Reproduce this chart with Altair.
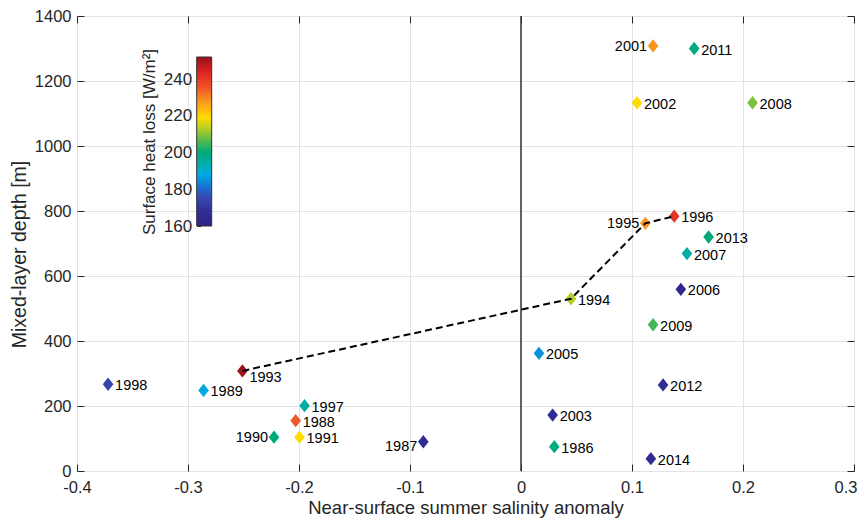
import altair as alt
import pandas as pd

# ---- data ----
years = [1986, 1987, 1988, 1989, 1990, 1991, 1993, 1994, 1995, 1996, 1997, 1998,
         2001, 2002, 2003, 2005, 2006, 2007, 2008, 2009, 2011, 2012, 2013, 2014]
salinity = [0.030, -0.088, -0.203, -0.286, -0.2225, -0.1995, -0.251, 0.045, 0.112, 0.138, -0.195, -0.372,
            0.119, 0.1045, 0.0285, 0.0162, 0.144, 0.1495, 0.2086, 0.119, 0.156, 0.128, 0.169, 0.117]
mld = [75, 90, 155, 248, 104, 104, 308, 530, 762, 784, 201, 267,
       1308, 1133, 172, 362, 559, 669, 1133, 450, 1300, 265, 720, 38]
heat_loss = [199, 167, 235, 188, 200, 219, 251, 213, 228, 241, 195, 174,
             228, 219, 167, 185, 164, 195, 209, 205, 199, 167, 200, 166]

path_years = [1993, 1994, 1995, 1996]          # dashed trajectory
left_label_years = [1990, 1987, 1995, 2001]    # labels placed left of marker
low_label_years = [1993, 1987]                 # labels sitting slightly lower

cbar_stops = [160, 168, 176, 182, 188, 194, 200, 206, 213, 219, 228, 236, 244, 252]
cbar_colors = ["#2d2382", "#322d96", "#374bb4", "#1478d7", "#00aae1", "#00afaa",
               "#00aa78", "#50b950", "#b4cd28", "#ffdc00", "#fa961e", "#f05028",
               "#dc2323", "#960f19"]
cbar_ticks = [160, 180, 200, 220, 240]
x_ticks = [-0.4, -0.3, -0.2, -0.1, 0, 0.1, 0.2, 0.3]
y_ticks = [0, 200, 400, 600, 800, 1000, 1200, 1400]

df = pd.DataFrame({"year": years, "sal": salinity, "mld": mld, "heat": heat_loss})
df["side"] = ["left" if y in left_label_years else "right" for y in years]
df["low"] = [y in low_label_years for y in years]
path_df = df[df["year"].isin(path_years)].sort_values("year")
zero_df = pd.DataFrame({"x": [0]})
cbar_df = pd.DataFrame({"lo": [cbar_stops[0]], "hi": [cbar_stops[-1]]})

FONT = "Liberation Sans"
TXT = "#262626"

xs = alt.Scale(domain=[-0.4, 0.3], nice=False, zero=False)
ys = alt.Scale(domain=[0, 1400], nice=False)
color_scale = alt.Scale(domain=cbar_stops, range=cbar_colors, interpolate="rgb")

main_x_axis = alt.Axis(values=x_ticks, grid=True, ticks=False, domain=False,
                       labelExpr="toString(round(datum.value*10)/10)",
                       labelAlign={"condition": {"test": "datum.value > 0.25", "value": "right"},
                                   "value": "center"},
                       labelOffset={"condition": {"test": "datum.value > 0.25", "value": 3},
                                    "value": 0},
                       labelFontSize=16.5, labelPadding=8, labelColor=TXT,
                       title="Near-surface summer salinity anomaly", titleFontSize=18.5,
                       titleFontWeight="normal", titleColor=TXT, titlePadding=3,
                       gridColor="#e3e3e3", labelFlush=False)
main_y_axis = alt.Axis(values=y_ticks, grid=True, ticks=False, domain=False, format="d",
                       labelFontSize=16.5, labelPadding=6, labelColor=TXT,
                       title="Mixed-layer depth [m]", titleFontSize=19.5, titleY=238,
                       titleFontWeight="normal", titleColor=TXT, titlePadding=5,
                       gridColor="#e3e3e3", labelFlush=False)


def tick_axis(orient, vals):
    return alt.Axis(orient=orient, values=vals, offset=-7, tickSize=7, tickColor=TXT,
                    tickWidth=1, labels=False, title=None, grid=False, domain=False)


# colour bar (guide) drawn inside the plot, with its own axis
cbar_scale = alt.Scale(domain=[cbar_stops[0], cbar_stops[-1]], range=[210, 41], nice=False, zero=False)
span = cbar_stops[-1] - cbar_stops[0]
grad = {
    "gradient": "linear", "x1": 0, "x2": 0, "y1": 1, "y2": 0,
    "stops": [{"offset": (v - cbar_stops[0]) / span, "color": c} for v, c in zip(cbar_stops, cbar_colors)],
}
cbar = alt.Chart(cbar_df).mark_rect(fill=grad, stroke="#333333", strokeWidth=1).encode(
    y=alt.Y("lo:Q", scale=cbar_scale,
            axis=alt.Axis(orient="left", offset=-123.7, values=cbar_ticks, tickSize=4,
                          tickColor="#333333", domain=False, grid=False,
                          labelFontSize=17, labelPadding=5, labelColor=TXT,
                          title="Surface heat loss [W/m²]", titleFontSize=17,
                          titleFontWeight="normal", titleColor=TXT, titlePadding=5)),
    y2="hi:Q",
    x=alt.value(119.7),
    x2=alt.value(134.7),
)

zero_rule = alt.Chart(zero_df).mark_rule(color="#333333", strokeWidth=1.5).encode(
    x=alt.X("x:Q", scale=xs, axis=None)
)

line = alt.Chart(path_df).mark_line(color="black", strokeWidth=2, strokeDash=[7, 4]).encode(
    x=alt.X("sal:Q", scale=xs, axis=tick_axis("bottom", x_ticks)),
    y=alt.Y("mld:Q", scale=ys, axis=tick_axis("left", y_ticks)),
    order="year:Q",
)

diamond = "M0,-1L0.8,0L0,1L-0.8,0Z"
points = alt.Chart(df).mark_point(shape=diamond, filled=True, size=177, opacity=1,
                                  strokeWidth=0).encode(
    x=alt.X("sal:Q", scale=xs, axis=main_x_axis),
    y=alt.Y("mld:Q", scale=ys, axis=main_y_axis),
    color=alt.Color("heat:Q", scale=color_scale, legend=None),
)

lab_right = alt.Chart(df).transform_filter(
    "datum.side == 'right' && !datum.low"
).mark_text(align="left", baseline="middle", dx=7, dy=2, fontSize=14.5, color="black").encode(
    x=alt.X("sal:Q", scale=xs, axis=tick_axis("top", x_ticks)),
    y=alt.Y("mld:Q", scale=ys, axis=tick_axis("right", y_ticks)),
    text="year:N",
)
lab_right_low = alt.Chart(df).transform_filter(
    "datum.side == 'right' && datum.low"
).mark_text(align="left", baseline="middle", dx=7, dy=7, fontSize=14.5, color="black").encode(
    x=alt.X("sal:Q", scale=xs, axis=None),
    y=alt.Y("mld:Q", scale=ys, axis=None),
    text="year:N",
)
lab_left = alt.Chart(df).transform_filter(
    "datum.side == 'left' && !datum.low"
).mark_text(align="right", baseline="middle", dx=-6, dy=1, fontSize=14.5, color="black").encode(
    x=alt.X("sal:Q", scale=xs, axis=None),
    y=alt.Y("mld:Q", scale=ys, axis=None),
    text="year:N",
)
lab_left_low = alt.Chart(df).transform_filter(
    "datum.side == 'left' && datum.low"
).mark_text(align="right", baseline="middle", dx=-6, dy=5, fontSize=14.5, color="black").encode(
    x=alt.X("sal:Q", scale=xs, axis=None),
    y=alt.Y("mld:Q", scale=ys, axis=None),
    text="year:N",
)

chart = alt.layer(
    points, cbar, zero_rule, line, lab_right, lab_right_low, lab_left, lab_left_low
).resolve_axis(x="independent", y="independent").resolve_scale(y="independent").properties(
    width=777, height=455,
    autosize=alt.AutoSizeParams(type="none"),
    padding={"left": 69, "top": 8, "right": 4, "bottom": 47},
).configure(font=FONT).configure_view(stroke="#333333", strokeWidth=1)

chart.save("out.html", embed_options={"renderer": "svg", "actions": False})
